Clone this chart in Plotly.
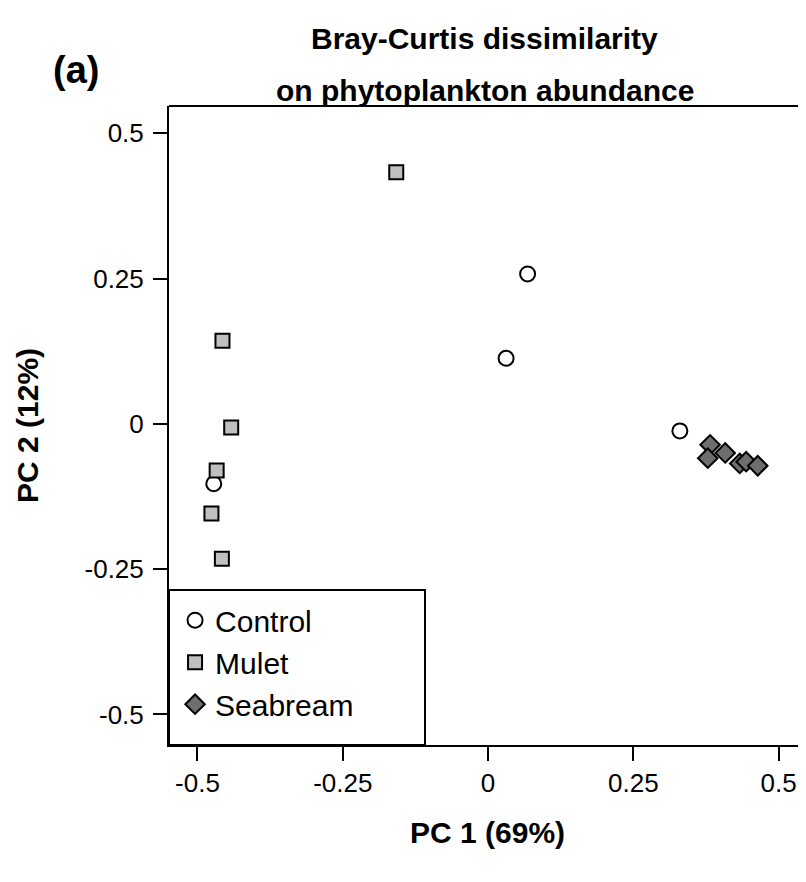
import plotly.graph_objects as go

# ---- data ----
control_x = [0.068, 0.031, 0.330, -0.472]
control_y = [0.258, 0.113, -0.012, -0.103]

mulet_x = [-0.158, -0.457, -0.442, -0.467, -0.476, -0.458]
mulet_y = [0.433, 0.143, -0.006, -0.080, -0.154, -0.232]

seabream_x = [0.382, 0.378, 0.408, 0.433, 0.444, 0.464]
seabream_y = [-0.036, -0.059, -0.050, -0.068, -0.065, -0.072]

tick_vals = [-0.5, -0.25, 0, 0.25, 0.5]
tick_text = ["-0.5", "-0.25", "0", "0.25", "0.5"]

FONT = "Liberation Sans, Arial, Helvetica, sans-serif"

fig = go.Figure()
fig.add_trace(go.Scatter(
    x=control_x, y=control_y, mode="markers", name="Control",
    marker=dict(symbol="circle", size=15, color="white",
                line=dict(color="black", width=2))))
fig.add_trace(go.Scatter(
    x=mulet_x, y=mulet_y, mode="markers", name="Mulet",
    marker=dict(symbol="square", size=14, color="#bfbfbf",
                line=dict(color="black", width=2))))
fig.add_trace(go.Scatter(
    x=seabream_x, y=seabream_y, mode="markers", name="Seabream",
    marker=dict(symbol="diamond", size=15, color="#6e6e6e",
                line=dict(color="black", width=2))))

axis_common = dict(
    showgrid=False, zeroline=False, showline=True, linecolor="black",
    linewidth=2, ticks="outside", ticklen=14, tickwidth=2, tickcolor="black",
    tickvals=tick_vals, ticktext=tick_text,
    tickfont=dict(family=FONT, size=26, color="black"),
)

fig.update_xaxes(range=[-0.549, 0.547], **axis_common)
fig.update_yaxes(range=[-0.5525, 0.547], ticklabelstandoff=4, **axis_common)

# legend box and top frame line
fig.add_shape(type="rect", xref="paper", yref="paper", x0=0, x1=0.4019,
              y0=0, y1=0.2426, line=dict(color="black", width=2),
              fillcolor="white", layer="below")
fig.add_shape(type="line", xref="paper", yref="paper", x0=0, x1=1,
              y0=1, y1=1, line=dict(color="black", width=2))

ann = []
ann.append(dict(text="<b>Bray-Curtis dissimilarity</b>", x=0.496, y=1.1064,
                xref="paper", yref="paper", showarrow=False,
                xanchor="center", yanchor="middle",
                font=dict(family=FONT, size=30, color="black")))
ann.append(dict(text="<b>on phytoplankton abundance</b>", x=0.496, y=1.025,
                xref="paper", yref="paper", showarrow=False,
                xanchor="center", yanchor="middle",
                font=dict(family=FONT, size=30, color="black")))
ann.append(dict(text="<b>(a)</b>", x=-0.146, y=1.0563,
                xref="paper", yref="paper", showarrow=False,
                xanchor="center", yanchor="middle",
                font=dict(family=FONT, size=38, color="black")))
ann.append(dict(text="<b>PC 1 (69%)</b>", x=0.5, y=-0.1377,
                xref="paper", yref="paper", showarrow=False,
                xanchor="center", yanchor="middle",
                font=dict(family=FONT, size=30, color="black")))
ann.append(dict(text="<b>PC 2 (12%)</b>", x=-0.2214, y=0.5008,
                xref="paper", yref="paper", showarrow=False, textangle=-90,
                xanchor="center", yanchor="middle",
                font=dict(family=FONT, size=30, color="black")))

# page body has an 8px default margin, so the figure is 8px smaller
fig.update_layout(
    width=798, height=874,
    margin=dict(l=161, r=0, t=98, b=137),
    plot_bgcolor="white", paper_bgcolor="white",
    annotations=ann,
    showlegend=True,
    legend=dict(x=0.0095, y=0.236, xanchor="left", yanchor="top",
                bgcolor="rgba(0,0,0,0)", borderwidth=0,
                font=dict(family=FONT, size=30, color="black"),
                itemwidth=30),
)

fig.write_html("out.html")
